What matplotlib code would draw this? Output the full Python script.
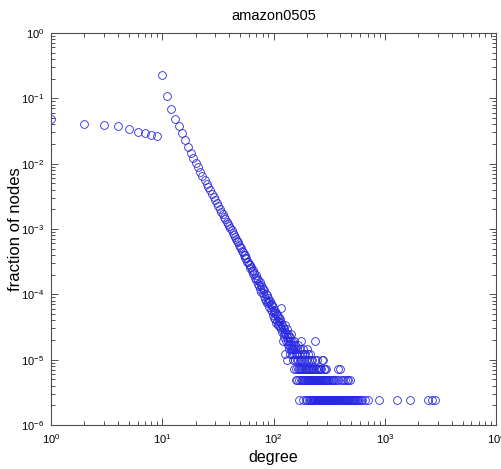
import numpy as np
import matplotlib
matplotlib.use("Agg")
from matplotlib import pyplot as plt
from matplotlib.ticker import LogLocator, NullFormatter

N_NODES = 410236

# node counts for degree 1..300 (0 = no node with that degree)
counts_low = [
    19600, 16800, 16000, 15450, 14100, 12700, 11900, 11100, 10700, 92300,
    45100, 28200, 19700, 15400, 11900, 9300, 7350, 6000, 5000, 4160,
    3610, 3080, 2670, 2330, 2030, 1790, 1600, 1410, 1270, 1130,
    1020, 925, 840, 755, 695, 630, 585, 530, 495, 450,
    420, 390, 355, 335, 305, 292, 265, 255, 232, 220,
    210, 188, 185, 165, 166, 146, 146, 128, 130, 118,
    117, 102, 106, 92, 97, 83, 88, 74, 82, 68,
    74, 60, 68, 55, 63, 50, 57, 45, 54, 43,
    49, 39, 47, 35, 42, 33, 40, 30, 36, 31,
    33, 26, 32, 24, 29, 23, 28, 20, 26, 21,
    24, 18, 23, 17, 21, 15, 20, 16, 19, 14,
    14, 18, 16, 13, 17, 12, 15, 25, 11, 14,
    8, 13, 10, 12, 9, 14, 5, 11, 8, 10,
    4, 9, 12, 7, 8, 10, 6, 9, 7, 8,
    5, 9, 6, 7, 10, 6, 5, 8, 4, 7,
    6, 5, 8, 3, 6, 4, 7, 2, 5, 3,
    4, 6, 2, 5, 3, 7, 4, 1, 3, 5,
    2, 4, 3, 6, 2, 4, 8, 3, 2, 5,
    3, 4, 1, 6, 2, 3, 5, 2, 4, 3,
    2, 5, 3, 1, 4, 2, 3, 6, 2, 4,
    1, 3, 2, 5, 2, 3, 1, 4, 2, 3,
    2, 1, 3, 5, 2, 4, 1, 2, 3, 2,
    1, 3, 2, 4, 1, 2, 3, 1, 2, 2,
    3, 1, 2, 4, 1, 8, 2, 1, 3, 2,
    1, 2, 3, 1, 2, 1, 4, 2, 1, 3,
    2, 1, 1, 3, 2, 1, 2, 0, 1, 3,
    1, 2, 1, 1, 3, 2, 1, 0, 2, 1,
    4, 1, 2, 1, 0, 2, 4, 1, 1, 2,
    1, 0, 3, 1, 2, 1, 0, 1, 3, 2,
    1, 1, 0, 2, 1, 0, 1, 2, 3, 1,
]

# sparse tail above degree 300
tail_deg = [
    303, 305, 307, 309, 312, 314, 316, 318, 321, 323, 326, 329, 331, 334, 337,
    341, 344, 347, 349, 352, 356, 359, 362, 365, 368, 371, 374, 378, 381, 383,
    386, 389, 392, 396, 399, 402, 407, 411, 415, 418, 423, 427, 431, 436, 441,
    446, 451, 455, 461, 466, 470, 476, 482, 489, 495, 503, 511, 520, 528, 540,
    552, 560, 575, 590, 606, 621, 670, 707, 895, 1300, 1690, 2450, 2640, 2830,
]
tail_cnt = [
    1, 2, 1, 1, 2, 1, 1, 2, 1, 1, 2, 1, 1, 2, 1,
    2, 1, 1, 1, 2, 1, 1, 1, 2, 1, 1, 1, 2, 3, 1,
    1, 1, 3, 1, 1, 2, 1, 1, 1, 2, 1, 1, 1, 2, 1,
    1, 1, 2, 1, 1, 2, 1, 1, 2, 1, 1, 1, 1, 1, 1,
    1, 1, 1, 1, 1, 1, 1, 1, 1, 1, 1, 1, 1, 1,
]

deg_low = np.arange(1, len(counts_low) + 1)
cnt_low = np.array(counts_low)
keep = cnt_low > 0
degree = np.concatenate([deg_low[keep], tail_deg])
fraction = np.concatenate([cnt_low[keep], tail_cnt]) / N_NODES

plt.rcParams["font.family"] = "Liberation Sans"
plt.rcParams["mathtext.fontset"] = "custom"
plt.rcParams["mathtext.rm"] = "Liberation Sans"
plt.rcParams["mathtext.it"] = "Liberation Sans"

fig = plt.figure(figsize=(5.01, 4.69), dpi=100)
ax = fig.add_axes([51 / 501, 44 / 469, 445 / 501, 392 / 469])
ax.loglog(degree, fraction, "o", mfc="none", mec="#2828e0", ms=5.6, mew=0.6)
ax.set_xlim(1, 1e4)
ax.set_ylim(1e-6, 1)

ax.xaxis.set_major_locator(LogLocator(base=10, numticks=10))
ax.xaxis.set_minor_locator(LogLocator(base=10, subs=np.arange(2, 10), numticks=10))
ax.yaxis.set_major_locator(LogLocator(base=10, numticks=10))
ax.yaxis.set_minor_locator(LogLocator(base=10, subs=np.arange(2, 10), numticks=10))
ax.xaxis.set_minor_formatter(NullFormatter())
ax.yaxis.set_minor_formatter(NullFormatter())

axis_color = "#505050"
for s in ax.spines.values():
    s.set_color(axis_color)
    s.set_linewidth(0.8)
ax.tick_params(which="both", direction="in", top=True, right=True, color=axis_color,
               labelsize=8, width=0.7)
ax.tick_params(which="major", length=5, pad=5)
ax.tick_params(which="minor", length=3)

ax.set_title("amazon0505", fontsize=10.5, pad=9)
ax.set_xlabel("degree", fontsize=11.5, labelpad=3)
ax.set_ylabel("fraction of nodes", fontsize=12)
ax.yaxis.set_label_coords(-0.064, 0.5)

fig.savefig("out.png", dpi=100)
